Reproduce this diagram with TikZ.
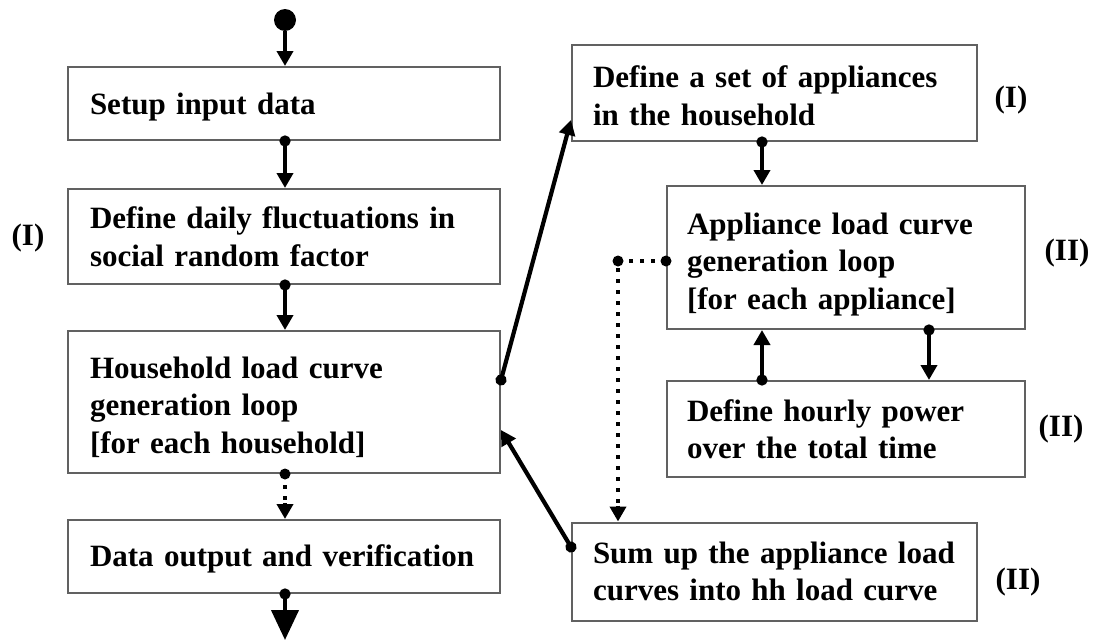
\documentclass[tikz,border=0pt]{standalone}
\usepackage{fontspec}
\setmainfont{Liberation Serif}
\usetikzlibrary{arrows.meta}
\tikzset{
  box/.style={draw=black!62, line width=2pt, rectangle, inner sep=0pt, anchor=center},
  txt/.style={align=left, inner sep=0pt, font=\bfseries\fontsize{31}{37.5}\selectfont},
  lbl/.style={font=\bfseries\fontsize{31}{37.5}\selectfont, inner sep=0pt},
  flow/.style={line width=4.2pt, draw=black, -{Triangle[width=16pt,length=15pt]}},
  flowd/.style={line width=4.2pt, draw=black, {Circle[length=11pt]}-{Triangle[width=16pt,length=15pt]}, shorten <=-5.5pt},
  dotline/.style={line width=4.2pt, draw=black, dash pattern=on 4pt off 7pt},
}
\begin{document}
\begin{tikzpicture}[x=1pt,y=-1pt]
\useasboundingbox (0,0) rectangle (1093,640);
% left column
\node[box, minimum width=432pt, minimum height=73pt,
  label={[txt, text width=388pt, yshift=-4pt]center:{Setup input data}}] (b1) at (284,103.5) {};
\node[box, minimum width=432pt, minimum height=95pt,
  label={[txt, text width=388pt]center:{Define daily fluctuations in\\social random factor}}] (b2) at (284,236.5) {};
\node[box, minimum width=432pt, minimum height=142pt,
  label={[txt, text width=388pt, yshift=-5pt]center:{Household load curve\\generation loop\\{[}for each household{]}}}] (b3) at (284,402) {};
\node[box, minimum width=432pt, minimum height=73pt,
  label={[txt, text width=388pt, yshift=-2pt]center:{Data output and verification}}] (b4) at (284,556.5) {};
% right column
\node[box, minimum width=405pt, minimum height=96pt,
  label={[txt, text width=363pt, yshift=-3pt]center:{Define a set of appliances\\in the household}}] (bA) at (774.5,93) {};
\node[box, minimum width=358pt, minimum height=143pt,
  label={[txt, text width=318pt, yshift=-7pt]center:{Appliance load curve\\generation loop\\{[}for each appliance{]}}}] (bB) at (846,257.5) {};
\node[box, minimum width=358pt, minimum height=96pt,
  label={[txt, text width=318pt]center:{Define hourly power\\over the total time}}] (bC) at (846,429) {};
\node[box, minimum width=405pt, minimum height=98pt,
  label={[txt, text width=363pt]center:{Sum up the appliance load\\curves into hh load curve}}] (bD) at (774.5,571.5) {};
% labels
\node[lbl] (l1) at (28,238) {(I)};
\node[lbl] (l2) at (1011,100) {(I)};
\node[lbl] (l3) at (1067,253) {(II)};
\node[lbl] (l4) at (1061,429) {(II)};
\node[lbl] (l5) at (1018,582) {(II)};
% start dot
\node[circle, fill=black, minimum size=22pt, inner sep=0pt] (start) at (285,20) {};
\coordinate (xl) at (285,0);
\coordinate (xab) at (762,0);
\coordinate (xbc) at (929,0);
\coordinate (ya) at (0,120);
\coordinate (y3a) at (0,380);
\coordinate (y3d) at (0,430);
\coordinate (yd3) at (0,547);
\coordinate (dk) at (618,261);
\coordinate (endpt) at (285,640);
% connectors
\draw[flow] (start) -- (b1.north -| xl);
\draw[flowd] (b1.south -| xl) -- (b2.north -| xl);
\draw[flowd] (b2.south -| xl) -- (b3.north -| xl);
\draw[dotline] (b3.south -| xl) -- ([yshift=15pt]b4.north -| xl);
\fill (b3.south -| xl) circle (5.5pt);
\draw[line width=4.2pt, -{Triangle[width=16pt,length=15pt]}] ([yshift=16pt]b4.north -| xl) -- (b4.north -| xl);
\draw[line width=4.2pt, {Circle[length=11pt]}-{Triangle[width=27pt,length=30pt]}, shorten <=-5.5pt] (b4.south -| xl) -- (endpt);
\draw[flowd] (b3.east |- y3a) -- (bA.west |- ya);
\draw[flowd] (bD.west |- yd3) -- (b3.east |- y3d);
\draw[flowd] (bA.south -| xab) -- (bB.north -| xab);
\draw[flowd] (bC.north -| xab) -- (bB.south -| xab);
\draw[flowd] (bB.south -| xbc) -- (bC.north -| xbc);
\draw[dotline] (bB.west |- dk) -- (dk) -- ([yshift=15pt]bD.north -| dk);
\fill (bB.west |- dk) circle (5.5pt);
\fill (dk) circle (5.5pt);
\draw[line width=4.2pt, -{Triangle[width=16pt,length=15pt]}] ([yshift=16pt]bD.north -| dk) -- (bD.north -| dk);
\end{tikzpicture}
\end{document}
